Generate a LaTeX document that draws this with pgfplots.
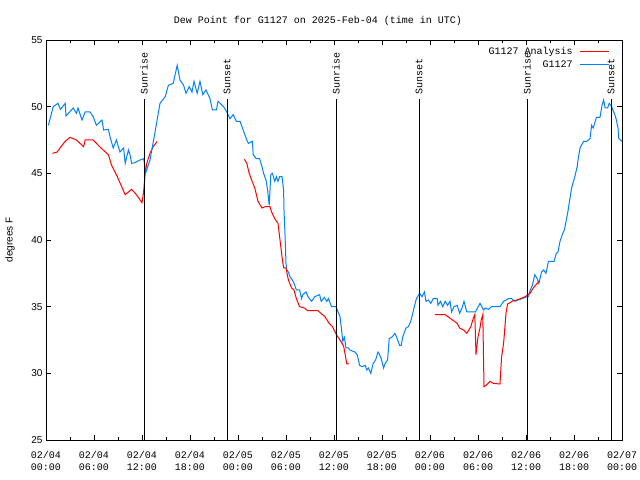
\documentclass[border=0pt]{standalone}
\usepackage{pgfplots}
\pgfplotsset{compat=1.18}
\usepackage{fontspec}
\newfontfamily\mono{Liberation Mono}
\newfontfamily\sans{Liberation Sans}
\definecolor{gblue}{RGB}{0,128,255}
\begin{document}
\begin{tikzpicture}
\useasboundingbox (0,0) rectangle (640bp,480bp);
\begin{axis}[
  scale only axis, width=576bp, height=400bp,
  at={(46bp,40bp)}, anchor=south west,
  xmin=0, xmax=72, ymin=25, ymax=55,
  xtick={0,6,...,72},
  xticklabels={{02/04\\00:00},{02/04\\06:00},{02/04\\12:00},{02/04\\18:00},{02/05\\00:00},{02/05\\06:00},{02/05\\12:00},{02/05\\18:00},{02/06\\00:00},{02/06\\06:00},{02/06\\12:00},{02/06\\18:00},{02/07\\00:00}},
  xticklabel style={align=center, font=\fontsize{10bp}{11.5bp}\mono, yshift=-8bp},
  minor x tick num=1,
  ytick={25,30,...,55},
  yticklabel style={font=\fontsize{10bp}{12bp}\sans},
  /pgf/number format/assume math mode=true,
  tick align=inside,
  major tick length=5bp, minor tick length=3bp,
  every tick/.style={black, line width=0.8bp},
  axis line style={line width=0.8bp},
  ylabel={degrees F},
  ylabel style={font=\fontsize{10bp}{12bp}\sans, at={(-36bp,0.5)}, anchor=center},
  legend plot pos=right,
  legend cell align=right,
  legend image code/.code={\draw[#1] (0bp,0bp) -- (29bp,0bp);},
  legend style={at={(0.979,0.988)}, anchor=north east, draw=none, fill=none,
    font=\fontsize{10bp}{12bp}\mono, inner sep=0pt, row sep=1bp,
    /tikz/every odd column/.append style={column sep=5bp}},
]
\addplot[red, line width=1bp] coordinates {(0.8,46.5) (1.4,46.6) (2.0,47.1) (2.4,47.4) (3.0,47.7) (3.8,47.5) (4.7,47.0) (4.9,47.5) (5.9,47.5) (6.7,47.0) (7.8,46.4) (8.2,45.6) (8.8,44.9) (9.9,43.4) (10.7,43.8) (11.3,43.4) (12.0,42.8) (12.2,43.6) (12.4,45.0) (12.6,45.75) (13.0,46.5) (13.4,47.0) (13.9,47.4)};
\addlegendentry{G1127 Analysis}
\addplot[gblue, line width=1bp] coordinates {(0.3,48.6) (0.9,50.0) (1.5,50.25) (1.8,49.8) (2.4,50.25) (2.5,49.3) (3.4,49.9) (3.8,49.5) (4.0,49.9) (4.5,49.0) (4.9,49.6) (5.5,49.6) (5.9,49.25) (6.3,48.6) (7.0,49.0) (7.2,48.25) (7.8,48.3) (8.0,47.75) (8.4,46.9) (8.8,47.5) (9.25,46.6) (9.7,46.9) (9.9,45.75) (10.3,46.75) (10.5,46.4) (10.7,45.75) (11.1,45.8) (11.75,46.0) (12.2,46.1) (12.5,45.1) (13.0,46.0) (13.6,48.0) (14.25,50.25) (14.9,50.75) (15.3,51.6) (15.9,51.75) (16.4,53.1) (16.75,52.0) (17.2,51.6) (17.5,51.0) (17.9,51.5) (18.25,51.1) (18.5,51.9) (18.9,51.0) (19.25,51.9) (19.6,50.9) (20.0,51.25) (20.5,50.6) (20.8,49.75) (21.3,49.75) (21.5,50.4) (22.2,50.0) (22.6,49.6) (23.0,49.1) (23.4,49.4) (23.8,48.9) (24.25,48.9) (25.1,47.5) (25.3,47.25) (25.8,47.4) (25.9,46.4) (26.3,46.1) (26.7,46.1) (27.0,45.5) (27.2,45.0) (27.5,44.5) (27.7,43.75) (27.9,42.6) (28.1,44.9) (28.3,45.0) (28.6,44.4) (28.8,44.75) (29.0,44.4) (29.2,44.75) (29.5,44.75) (29.7,43.75) (29.75,42.25) (29.9,40.0) (30.0,38.25) (30.1,37.75) (30.3,37.6) (30.5,37.25) (30.8,37.0) (31.0,36.75) (31.3,36.25) (31.7,36.25) (31.95,35.6) (32.1,35.9) (32.5,36.1) (32.75,35.75) (33.2,35.4) (33.6,35.75) (34.2,35.9) (34.4,35.4) (34.8,35.7) (35.1,35.4) (35.3,35.6) (35.7,35.0) (36.25,35.0) (36.75,34.25) (36.95,33.25) (37.1,32.4) (37.3,32.7) (37.5,31.9) (37.8,31.9) (38.0,31.75) (38.6,31.6) (38.9,31.4) (39.2,30.6) (39.5,30.5) (39.9,30.6) (40.1,30.25) (40.3,30.4) (40.6,30.0) (40.9,30.75) (41.2,31.0) (41.5,31.6) (41.7,31.4) (41.9,31.1) (42.2,30.4) (42.4,30.75) (42.7,31.0) (42.9,32.6) (43.3,32.75) (43.6,33.0) (43.8,32.75) (44.2,32.1) (44.4,32.1) (44.6,32.75) (45.0,33.4) (45.3,33.5) (45.6,33.9) (46.0,34.9) (46.3,35.6) (46.7,36.0) (47.0,35.75) (47.3,36.1) (47.5,35.4) (47.8,35.5) (48.1,35.25) (48.4,35.6) (48.9,35.6) (49.0,35.1) (49.3,35.4) (49.6,35.0) (49.9,35.4) (50.2,35.1) (50.5,35.4) (50.7,34.6) (51.0,35.0) (51.4,35.1) (51.7,34.5) (52.0,34.9) (52.25,35.4) (52.6,34.6) (53.0,34.6) (53.7,34.6) (53.8,34.75) (54.25,35.25) (54.7,34.75) (54.9,34.9) (55.3,34.8) (55.7,35.0) (56.75,35.0) (57.2,35.4) (57.8,35.6) (58.2,35.6) (58.6,35.4) (59.0,35.5) (59.5,35.6) (59.9,35.7) (60.3,35.75) (60.5,36.2) (60.8,36.6) (61.1,37.4) (61.4,37.1) (61.6,36.75) (61.95,37.6) (62.2,37.75) (62.5,37.5) (62.8,38.4) (63.5,38.4) (63.8,39.0) (64.0,39.1) (64.25,39.9) (64.6,40.5) (64.8,40.75) (65.2,42.0) (65.7,43.9) (66.1,44.75) (66.4,45.5) (66.5,46.0) (66.75,46.9) (67.2,47.4) (67.6,47.4) (68.0,47.6) (68.2,48.6) (68.4,48.4) (68.5,48.6) (68.8,49.2) (69.25,49.2) (69.5,50.1) (69.7,50.5) (69.9,49.9) (70.2,49.9) (70.4,50.25) (70.7,50.0) (71.1,49.4) (71.3,49.0) (71.5,48.4) (71.6,47.6) (72,47.4)};
\addlegendentry{G1127}
\addplot[red, line width=1bp, forget plot] coordinates {(24.8,46.05) (25.1,45.75) (25.4,45.0) (25.7,44.5) (26.1,43.9) (26.5,42.9) (27.0,42.4) (27.4,42.5) (28.0,42.5) (28.2,42.1) (28.6,41.6) (29.0,41.25) (29.25,40.0) (29.5,38.75) (29.7,37.9) (30.0,37.9) (30.3,37.0) (30.7,36.4) (31.0,36.25) (31.3,35.6) (31.7,35.0) (32.3,34.9) (32.7,34.7) (34.0,34.7) (34.45,34.45) (34.8,34.3) (35.4,33.75) (35.8,33.5) (36.3,32.9) (36.75,32.5) (37.2,32.05) (37.4,31.4) (37.6,30.7) (37.9,30.7)};
\addplot[red, line width=1bp, forget plot] coordinates {(48.6,34.4) (49.9,34.4) (50.7,34.05) (51.4,33.75) (51.7,33.4) (52.2,33.25) (52.6,33.0) (53.1,33.5) (53.4,34.1) (53.6,34.4) (53.75,31.4) (54.0,32.75) (54.25,33.4) (54.4,34.0) (54.6,34.4) (54.75,29.0) (55.0,29.1) (55.5,29.4) (55.9,29.25) (56.75,29.2) (56.95,31.25) (57.2,32.25) (57.5,34.5) (57.7,35.2) (58.0,35.3) (58.4,35.45) (58.9,35.5) (59.3,35.6) (59.9,35.75) (60.5,36.0) (60.9,36.4) (61.4,36.75) (61.7,36.9)};
\addplot[black, line width=1bp, forget plot] coordinates {(12.25,25) (12.25,50.6)} node[pos=1, rotate=90, anchor=west, inner sep=4bp, font=\fontsize{10bp}{12bp}\mono] {Sunrise};
\addplot[black, line width=1bp, forget plot] coordinates {(22.625,25) (22.625,50.6)} node[pos=1, rotate=90, anchor=west, inner sep=4bp, font=\fontsize{10bp}{12bp}\mono] {Sunset};
\addplot[black, line width=1bp, forget plot] coordinates {(36.25,25) (36.25,50.6)} node[pos=1, rotate=90, anchor=west, inner sep=4bp, font=\fontsize{10bp}{12bp}\mono] {Sunrise};
\addplot[black, line width=1bp, forget plot] coordinates {(46.625,25) (46.625,50.6)} node[pos=1, rotate=90, anchor=west, inner sep=4bp, font=\fontsize{10bp}{12bp}\mono] {Sunset};
\addplot[black, line width=1bp, forget plot] coordinates {(60.125,25) (60.125,50.6)} node[pos=1, rotate=90, anchor=west, inner sep=4bp, font=\fontsize{10bp}{12bp}\mono] {Sunrise};
\addplot[black, line width=1bp, forget plot] coordinates {(70.625,25) (70.625,50.6)} node[pos=1, rotate=90, anchor=west, inner sep=4bp, font=\fontsize{10bp}{12bp}\mono] {Sunset};
\end{axis}
\node[font=\fontsize{10bp}{12bp}\mono] at (318bp,459bp) {Dew Point for G1127 on 2025-Feb-04 (time in UTC)};
\end{tikzpicture}
\end{document}
